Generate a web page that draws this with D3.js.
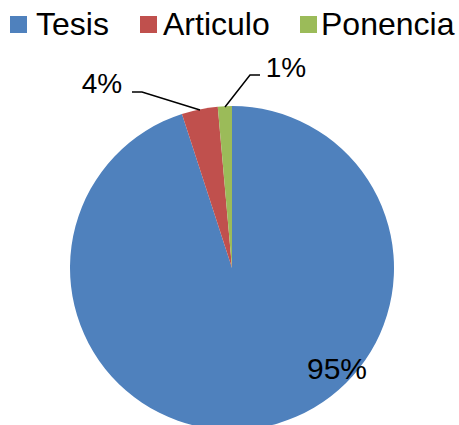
<!DOCTYPE html>
<html><head><meta charset="utf-8">
<script src="https://cdn.jsdelivr.net/npm/d3@7"></script>
<style>body{margin:0;background:#fff}svg{display:block}</style>
</head><body><svg id="c" width="459" height="425"></svg>
<script>
const categories = ["Tesis", "Articulo", "Ponencia"];
const values = [95.0, 3.6, 1.4];
const labels = ["95%", "4%", "1%"];
const colors = ["#4F81BD", "#C0504D", "#9BBB59"];

const svg = d3.select("#c");
const font = "'Liberation Sans', Arial, sans-serif";
const cx = 232, cy = 268, r = 162;

const pie = d3.pie().sort(null).value(d => d)(values);
const arc = d3.arc().innerRadius(0).outerRadius(r);
const g = svg.append("g").attr("transform", `translate(${cx},${cy})`);
g.selectAll("path").data(pie).join("path")
  .attr("d", arc).attr("fill", (d, i) => colors[i]);

// labels
const labelPos = [
  {x: 337, y: 379, size: 30, line: null},
  {x: 102, y: 93, size: 28, line: [[132, 92], [142, 92], [200, 110]]},
  {x: 286, y: 77, size: 28, line: [[260, 75], [250, 75], [225, 107]]}
];
labelPos.forEach((p, i) => {
  if (p.line) {
    svg.append("path").attr("d", d3.line()(p.line))
      .attr("fill", "none").attr("stroke", "#000").attr("stroke-width", 1.5);
  }
  svg.append("text").attr("x", p.x).attr("y", p.y).attr("text-anchor", "middle")
    .attr("font-family", font).attr("font-size", p.size).attr("fill", "#000").text(labels[i]);
});

// legend
const legX = [10, 140, 300];
const textX = [36, 163, 321];
categories.forEach((c, i) => {
  svg.append("rect").attr("x", legX[i]).attr("y", 16).attr("width", 17).attr("height", 17)
    .attr("fill", colors[i]);
  svg.append("text").attr("x", textX[i]).attr("y", 35)
    .attr("font-family", font).attr("font-size", 32).attr("fill", "#000").text(c);
});
</script></body></html>
